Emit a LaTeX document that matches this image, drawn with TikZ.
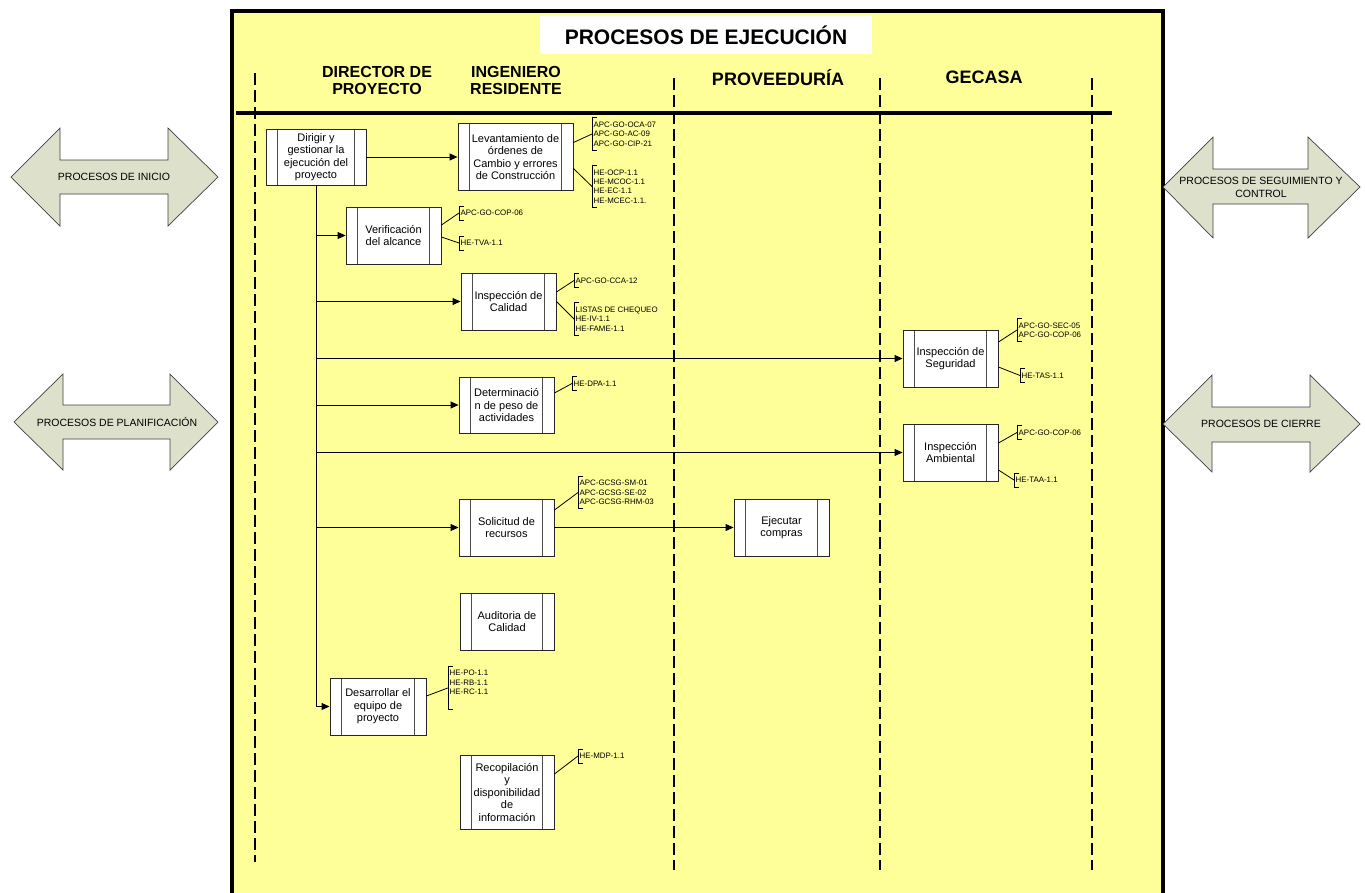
\documentclass[tikz,border=0pt]{standalone}
\usepackage{fontspec}
\setmainfont{Liberation Sans}
\usetikzlibrary{arrows.meta,calc}
\definecolor{laneyellow}{RGB}{255,255,153}
\definecolor{phasegreen}{RGB}{221,224,203}
\begin{document}
\begin{tikzpicture}[x=1pt,y=-1pt,
  proc/.style={draw=black!85, line width=0.9pt, fill=white, align=center, inner sep=0pt,
    minimum width=95pt, minimum height=57pt,
    font=\fontsize{11}{12.5}\selectfont,
    path picture={\draw[line width=0.9pt, black!70]
      ([xshift=11.5pt]path picture bounding box.north west) -- ([xshift=11.5pt]path picture bounding box.south west)
      ([xshift=-11.5pt]path picture bounding box.north east) -- ([xshift=-11.5pt]path picture bounding box.south east);}},
  note/.style={anchor=west, align=left, inner xsep=1.5pt, inner ysep=4pt,
    font=\fontsize{7.9}{9.3}\selectfont},
  bracket/.style={draw=black, line width=0.8pt},
  lead/.style={draw=black, line width=0.8pt},
  flow/.style={draw=black, line width=0.9pt, -{Triangle[length=8pt,width=7pt]}},
  lane/.style={line width=2.4pt, dash pattern=on 12pt off 5pt},
  phase/.style={draw=black!75, line width=0.7pt, fill=phasegreen},
  phasetext/.style={align=center, inner sep=0pt, font=\fontsize{10.5}{13}\selectfont},
  header/.style={align=center, inner sep=0pt, font=\bfseries\fontsize{16}{17}\selectfont},
]
\useasboundingbox (0,0) rectangle (1365,892);
\clip (0,0) rectangle (1365,892);

% yellow swimlane frame
\fill[laneyellow] (232,11) rectangle (1163,910);
\draw[line width=4pt] (232,910) -- (232,11) -- (1163,11) -- (1163,910);

% title and lane headers
\node[fill=white, minimum width=332pt, minimum height=38pt, inner sep=0pt,
      font=\bfseries\fontsize{21}{24}\selectfont] (title) at (706,35) {PROCESOS DE EJECUCIÓN};
\node[header] (hdir) at (377,80) {DIRECTOR DE\\PROYECTO};
\node[header] (hing) at (516,80) {INGENIERO\\RESIDENTE};
\node[header, font=\bfseries\fontsize{18}{20}\selectfont] (hprov) at (778,78) {PROVEEDURÍA};
\node[header, font=\bfseries\fontsize{18}{20}\selectfont] (hgec) at (984,77) {GECASA};

\draw[line width=4pt] (236,113) -- (1112,113);

% phase arrows on both sides
\path[phase] (11,177) -- (60,128) -- (60,160) -- (168,160) -- (168,128) -- (218,177)
  -- (168,226) -- (168,194) -- (60,194) -- (60,226) -- cycle;
\node[phasetext] (pini) at (114,177) {PROCESOS DE INICIO};
\path[phase] (14,422) -- (63,374) -- (63,405) -- (170,405) -- (170,374) -- (218,422)
  -- (170,470) -- (170,439) -- (63,439) -- (63,470) -- cycle;
\node[phasetext] (pplan) at (117,422) {PROCESOS DE PLANIFICACIÓN};
\path[phase] (1163,187) -- (1213,137) -- (1213,169) -- (1308,169) -- (1308,137) -- (1360,187)
  -- (1308,238) -- (1308,204) -- (1213,204) -- (1213,238) -- cycle;
\node[phasetext] (pseg) at (1261,187) {PROCESOS DE SEGUIMIENTO Y\\CONTROL};
\path[phase] (1163,424) -- (1212,375) -- (1212,407) -- (1310,407) -- (1310,375) -- (1360,424)
  -- (1310,472) -- (1310,442) -- (1212,442) -- (1212,472) -- cycle;
\node[phasetext] (pcie) at (1261,424) {PROCESOS DE CIERRE};

% process boxes
\node[proc, minimum width=100pt, minimum height=56pt] (dir) at (316,157) {Dirigir y\\gestionar la\\ejecución del\\proyecto};
\node[proc, minimum width=115pt, minimum height=67pt] (lev) at (515.5,157) {Levantamiento de\\órdenes de\\Cambio y errores\\de Construcción};
\node[proc] (ver) at (393.5,235.5) {Verificación\\del alcance};
\node[proc] (cal) at (508.5,301.5) {Inspección de\\Calidad};
\node[proc, minimum height=56pt] (det) at (506.5,405) {Determinació\\n de peso de\\actividades};
\node[proc] (sol) at (506.5,527.5) {Solicitud de\\recursos};
\node[proc] (eje) at (781.5,527.5) {Ejecutar\\compras};
\node[proc, minimum width=94pt] (aud) at (507,621.5) {Auditoria de\\Calidad};
\node[proc, minimum width=96pt] (des) at (378,706.5) {Desarrollar el\\equipo de\\proyecto};
\node[proc, minimum width=94pt, minimum height=74pt] (rec) at (507,792) {Recopilación\\y\\disponibilidad\\de\\información};
\node[proc] (seg) at (950.5,358.5) {Inspección de\\Seguridad};
\node[proc] (amb) at (950.5,452.5) {Inspección\\Ambiental};

% flow connectors
\draw[flow] (dir.east) -- (dir.east -| lev.west);
\draw[flow] (dir.south) |- (des.west);
\foreach \t in {ver,cal,seg,det,amb,sol}
  \draw[flow] (dir.south |- \t.west) -- (\t.west);
\draw[flow] (sol.east) -- (eje.west);

% lane separators
\draw[lane] (255,73) -- (255,862);
\draw[lane] (674,78) -- (674,870);
\draw[lane] (880,78) -- (880,870);
\draw[lane] (1092,78) -- (1092,870);

% document annotations
\node[note] (n1) at (592,134) {APC-GO-OCA-07\\APC-GO-AC-09\\APC-GO-CIP-21};
\node[note] (n2) at (592,186.5) {HE-OCP-1.1\\HE-MCOC-1.1\\HE-EC-1.1\\HE-MCEC-1.1.};
\node[note] (n3) at (459,213) {APC-GO-COP-06};
\node[note] (n4) at (459,243) {HE-TVA-1.1};
\node[note] (n5) at (574,280.5) {APC-GO-CCA-12};
\node[note] (n6) at (574,319) {LISTAS DE CHEQUEO\\HE-IV-1.1\\HE-FAME-1.1};
\node[note] (n7) at (572,383.5) {HE-DPA-1.1};
\node[note] (n8) at (578,492.5) {APC-GCSG-SM-01\\APC-GCSG-SE-02\\APC-GCSG-RHM-03};
\node[note, anchor=north west] (n9) at (448,666) {HE-PO-1.1\\HE-RB-1.1\\HE-RC-1.1\\[2pt]\mbox{}};
\node[note] (n10) at (578,756) {HE-MDP-1.1};
\node[note] (n11) at (1017,330) {APC-GO-SEC-05\\APC-GO-COP-06};
\node[note] (n12) at (1020,375.5) {HE-TAS-1.1};
\node[note] (n13) at (1017,432.5) {APC-GO-COP-06};
\node[note] (n14) at (1014,480) {HE-TAA-1.1};

\foreach \n in {n1,n2,n3,n4,n5,n6,n7,n8,n9,n10,n11,n12,n13,n14}
  \draw[bracket] ([xshift=5pt]\n.north west) -- (\n.north west) -- (\n.south west) -- ([xshift=5pt]\n.south west);

\draw[lead] ([yshift=14.5pt]lev.east) -- (n1.west);
\draw[lead] ([yshift=-11.5pt]lev.east) -- (n2.west);
\draw[lead] ([yshift=10.5pt]ver.east) -- (n3.west);
\draw[lead] ([yshift=-1.5pt]ver.east) -- (n4.west);
\draw[lead] ([yshift=9.5pt]cal.east) -- (n5.west);
\draw[lead] (cal.east) -- (n6.west);
\draw[lead] ([yshift=12pt]det.east) -- (n7.west);
\draw[lead] ([yshift=17.5pt]sol.east) -- (n8.west);
\draw[lead] ([yshift=10.5pt]des.east) -- (n9.west);
\draw[lead] ([yshift=18pt]rec.east) -- (n10.west);
\draw[lead] ([yshift=16.5pt]seg.east) -- (n11.west);
\draw[lead] ([yshift=-8.5pt]seg.east) -- (n12.west);
\draw[lead] ([yshift=9.5pt]amb.east) -- (n13.west);
\draw[lead] ([yshift=-17.5pt]amb.east) -- (n14.west);
\end{tikzpicture}
\end{document}
